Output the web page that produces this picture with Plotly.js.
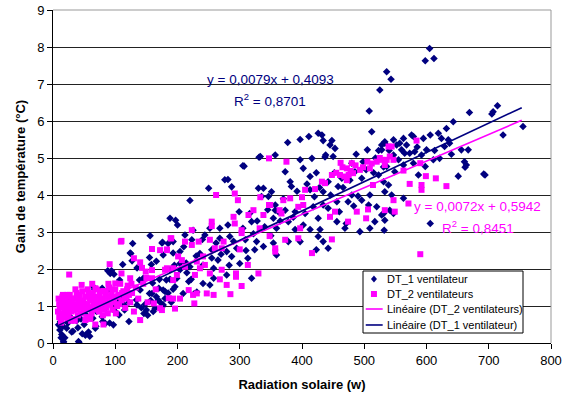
<!DOCTYPE html>
<html>
<head>
<meta charset="utf-8">
<script src="https://cdn.plot.ly/plotly-3.0.1.min.js"></script>
<style>html,body{margin:0;padding:0;background:#fff;}#chart{width:565px;height:395px;}</style>
</head>
<body>
<div id="chart"></div>
<script>
// DT_1 ventilateur (navy diamonds): radiation (w), gain (°C)
const dt1X = [9,11,12,13,14,14,16,17,17,19,22,24,30,32,40,41,42,47,50,51,52,53,57,59,20,28,35,45,60,15,25,38,
  64,65,67,68,69,75,79,79,80,84,88,91,91,92,94,94,97,98,104,106,107,112,114,115,122,124,125,127,128,122,100,85,70,110,
  134,135,135,139,140,146,150,155,155,156,158,159,164,166,169,170,171,175,175,176,177,177,177,180,180,182,185,188,188,188,193,193,193,196,197,199,200,
  142,148,152,157,161,166,172,185,190,145,160,
  204,204,204,209,212,214,218,220,220,222,223,225,227,231,236,241,241,244,250,252,252,255,258,258,265,268,268,276,279,279,281,281,284,287,287,295,299,300,
  305,307,309,313,319,319,324,327,330,331,333,335,338,338,340,346,351,354,354,357,357,357,359,359,362,373,373,377,378,378,381,383,389,389,397,397,397,
  402,402,411,413,413,413,416,418,423,423,426,426,426,429,432,434,434,434,434,437,438,442,442,442,445,448,450,453,456,456,458,464,469,471,474,480,480,485,487,490,493,496,496,
  503,505,507,508,509,509,512,517,520,523,523,525,528,528,528,531,531,531,532,533,533,533,533,536,536,539,541,543,544,547,547,547,549,555,557,560,563,563,563,565,568,573,576,579,579,581,587,592,595,598,598,
  600,605,606,606,611,612,619,621,624,629,632,635,637,643,651,656,661,662,664,667,669,692,694,705,707,714,723,755,
  255,262,270,283,290,305,310,316,322,328,345,350,365,370,386,392,405,408,420,428,446,452,460,466,477,483,498,515,518,540,552,585,613,640,195,210,230,240,215];
const dt1Y = [0.49,0.35,0.58,0.14,0.23,0.67,0.45,0.04,0.0,0.14,0.40,0.54,0.30,0.32,0.41,0.04,0.0,0.25,0.5,1.07,0.21,0.76,0.30,0.18,0.85,0.7,0.95,0.65,0.9,1.0,1.1,0.6,
  0.67,1.52,1.45,0.40,0.45,1.25,1.48,0.71,0.58,0.53,1.95,0.54,1.43,1.88,1.95,1.03,0.49,1.86,1.16,0.76,1.7,2.12,1.03,0.89,0.58,2.43,2.42,2.22,2.69,1.1,0.85,0.95,0.85,1.3,
  1.16,2.03,1.03,1.7,1.43,0.8,0.89,2.31,1.34,2.9,2.12,1.34,0.94,2.21,1.16,1.48,1.72,2.70,0.97,2.72,1.03,2.38,1.43,1.39,1.20,1.70,2.69,3.37,1.98,1.72,2.74,2.43,1.45,1.52,3.32,1.75,3.19,
  0.95,1.05,0.75,1.15,0.85,1.25,1.1,1.35,1.1,1.75,1.62,
  2.47,2.15,1.98,1.34,2.92,2.16,1.66,2.06,3.85,1.72,2.79,3.05,1.34,1.38,2.42,2.11,1.61,2.92,4.18,3.10,1.57,2.52,2.02,1.75,2.24,3.10,2.83,4.41,2.47,1.84,4.42,3.19,2.88,4.22,2.34,2.56,3.55,2.15,
  4.79,4.78,2.79,2.29,3.28,1.75,2.52,2.74,4.18,5.02,5.04,3.96,4.18,2.61,3.14,3.96,4.09,3.37,2.70,5.08,3.73,3.59,3.10,2.38,3.55,4.63,3.59,5.42,3.28,2.74,4.36,4.23,3.55,3.07,5.50,4.95,2.74,
  4.72,3.19,5.58,4.50,4.14,3.07,4.99,3.68,4.60,2.52,5.67,3.37,2.88,3.07,5.62,5.47,4.09,3.73,2.74,5.03,5.08,4.36,3.64,2.56,5.35,5.47,5.04,5.26,3.82,3.28,4.23,4.45,3.10,3.23,3.82,4.86,4.0,4.63,5.10,3.97,3.01,4.45,3.86,
  4.68,5.22,3.73,6.27,4.0,3.10,5.71,3.28,3.68,5.20,4.54,6.84,5.35,5.22,3.46,4.76,4.36,3.50,3.05,5.40,5.44,4.09,3.32,4.77,7.33,4.27,3.59,7.13,4.0,5.49,5.08,3.50,4.63,4.95,5.40,5.22,5.53,4.81,3.91,5.13,5.35,5.13,5.62,5.58,4.86,5.17,4.54,5.08,5.53,4.77,7.63,
  5.22,7.96,5.62,3.23,4.95,7.69,5.67,4.99,5.53,5.31,5.80,5.49,5.40,5.98,4.51,5.22,4.90,4.75,4.81,5.22,6.23,4.57,4.54,6.19,6.25,6.41,5.62,5.85,
  2.3,2.7,2.4,2.1,2.75,3.1,2.5,3.5,2.95,3.3,3.6,2.9,3.3,3.9,3.4,4.1,3.5,4.3,3.95,4.2,4.0,4.6,3.55,4.2,4.4,3.7,4.9,4.6,5.0,5.2,5.35,5.3,5.2,5.1,2.1,2.6,2.35,2.8,1.9];

// DT_2 ventilateurs (magenta squares)
const dt2X = [8,9,10,11,12,13,14,15,16,17,18,19,20,21,22,23,24,25,27,28,29,30,32,33,35,36,37,38,40,41,42,44,45,47,48,50,52,54,55,57,58,60,62,63,64,65,67,69,70,72,74,75,77,79,80,82,84,86,88,89,90,92,94,96,98,100,101,103,105,108,110,113,116,118,120,124,127,130,133,137,145,152,165,
  10,12,15,18,21,23,26,30,33,36,39,43,46,49,53,56,59,61,66,71,73,76,78,81,85,87,91,95,97,102,106,111,115,119,122,126,13,35,60,88,
  14,25,26,46,52,68,68,81,84,91,100,109,110,110,124,130,140,140,143,149,150,159,159,159,162,172,172,183,183,186,189,
  175,180,183,190,193,193,193,196,199,201,204,207,212,212,218,223,223,225,227,228,231,231,234,236,241,244,247,252,252,255,255,258,260,262,268,271,271,274,279,285,290,292,292,294,294,297,300,303,303,303,313,314,322,330,332,333,338,347,347,348,
  349,357,357,364,367,370,373,375,381,394,394,397,400,402,405,416,421,432,437,445,448,448,453,455,461,462,465,468,472,472,474,475,478,480,482,486,488,493,498,503,505,506,509,512,514,520,525,528,533,536,539,
  533,541,544,547,547,549,563,571,573,584,590,590,592,592,599,615,632];
const dt2Y = [0.85,1.2,0.7,1.0,0.95,0.6,1.15,0.8,1.3,1.05,0.7,0.9,1.25,1.1,0.9,0.65,1.1,0.75,1.3,1.0,0.6,0.85,1.2,0.65,1.05,1.45,0.9,1.35,0.75,1.2,1.15,1.0,0.8,1.4,1.1,0.9,1.25,0.7,1.05,1.3,0.95,1.15,0.8,1.6,1.35,1.0,1.2,0.9,1.45,1.1,0.85,1.3,1.0,1.2,0.75,1.4,1.1,0.95,1.25,1.6,1.5,1.05,1.3,0.9,1.2,1.45,0.8,1.0,1.3,1.6,1.15,1.4,0.95,1.25,1.55,1.1,1.35,0.85,1.5,1.2,1.6,1.1,1.45,
  1.05,0.75,1.25,1.0,0.8,1.3,0.95,1.1,0.9,1.2,1.0,1.3,0.95,1.15,1.0,1.45,1.2,0.95,1.1,1.25,0.95,1.15,1.4,0.9,1.35,1.1,1.25,1.45,1.1,1.25,1.05,1.35,1.2,1.45,1.3,1.6,0.55,0.6,0.65,0.8,
  1.12,1.25,1.85,1.57,0.62,1.48,0.50,0.50,1.39,2.13,1.61,2.74,2.76,1.88,1.75,2.29,2.18,0.62,2.03,1.93,1.76,2.54,1.75,1.97,1.07,2.51,0.94,2.51,2.02,1.21,2.83,
  0.89,1.98,2.53,2.83,2.02,1.70,1.20,0.93,1.84,2.34,1.20,2.24,2.74,2.06,1.43,3.05,2.65,1.30,1.07,1.84,2.20,1.34,2.74,2.02,2.34,2.11,1.34,2.79,1.88,3.28,3.16,1.30,2.56,4.0,1.72,2.56,1.98,2.74,1.57,1.32,3.41,4.04,3.23,1.88,1.79,3.86,2.53,3.05,2.97,1.54,2.11,3.46,3.59,1.88,3.10,3.94,3.46,4.99,3.73,2.89,
  3.73,2.56,2.47,3.59,3.50,3.86,2.79,4.90,3.91,3.68,2.83,3.10,3.94,3.73,4.14,2.43,4.16,4.36,4.32,3.41,4.54,2.80,3.55,4.6,4.54,4.87,4.75,4.5,4.72,4.40,3.28,4.54,4.65,4.86,4.59,4.8,3.55,4.68,4.75,3.37,4.9,3.61,4.72,4.85,4.27,4.90,5.0,4.95,3.59,4.95,5.31,
  4.81,5.04,5.31,4.95,3.86,3.55,4.66,3.77,4.30,5.47,4.86,2.40,4.27,4.14,4.51,4.45,4.24];

// Linear trend lines (end points)
const trend1X = [8, 753];
const trend1Y = [0.47, 6.36];
const trend2X = [8, 753];
const trend2Y = [0.65, 6.02];

const eq1 = ['y = 0,0079x + 0,4093', 'R<sup>2</sup> = 0,8701'];
const eq2 = ['y = 0,0072x + 0,5942', 'R<sup>2</sup> = 0,8451'];
const seriesNames = ['DT_1 ventilateur', 'DT_2 ventilateurs', 'Linéaire (DT_2 ventilateurs)', 'Linéaire (DT_1 ventilateur)'];

const NAVY = '#000080', MAG = '#FF00FF';
const FONT = 'Arial, "Liberation Sans", sans-serif';

const traces = [
  {x: dt1X, y: dt1Y, type: 'scatter', mode: 'markers', name: seriesNames[0],
   marker: {symbol: 'diamond', size: 5.8, color: NAVY}},
  {x: dt2X, y: dt2Y, type: 'scatter', mode: 'markers', name: seriesNames[1],
   marker: {symbol: 'square', size: 6, color: MAG}},
  {x: trend2X, y: trend2Y, type: 'scatter', mode: 'lines', name: seriesNames[2],
   line: {color: MAG, width: 1.6}},
  {x: trend1X, y: trend1Y, type: 'scatter', mode: 'lines', name: seriesNames[3],
   line: {color: NAVY, width: 1.6}}
];

// custom legend (Excel-style compact box), positions in paper units
const legBox = {x0: 0.6225, x1: 0.9438, y0: 0.030, y1: 0.2162};
const legRows = [0.1922, 0.1471, 0.1021, 0.0541];
const legSymX = 0.6445, legLineX0 = 0.628, legLineX1 = 0.662, legTextX = 0.6667;

const shapes = [
  {type: 'line', xref: 'paper', yref: 'paper', x0: 0, x1: 1, y0: 1, y1: 1, line: {color: '#999', width: 1}, layer: 'above'},
  {type: 'line', xref: 'paper', yref: 'paper', x0: 1, x1: 1, y0: 0, y1: 1, line: {color: '#999', width: 1}, layer: 'above'},
  {type: 'rect', xref: 'paper', yref: 'paper', x0: legBox.x0, x1: legBox.x1, y0: legBox.y0, y1: legBox.y1,
   fillcolor: '#fff', line: {color: '#000', width: 1}, layer: 'above'},
  {type: 'path', xref: 'paper', yref: 'paper', xsizemode: 'pixel', ysizemode: 'pixel',
   xanchor: legSymX, yanchor: legRows[0], path: 'M0,3.6 L3,0 L0,-3.6 L-3,0 Z',
   fillcolor: NAVY, line: {width: 0}, layer: 'above'},
  {type: 'rect', xref: 'paper', yref: 'paper', xsizemode: 'pixel', ysizemode: 'pixel',
   xanchor: legSymX, yanchor: legRows[1], x0: -3, x1: 3, y0: -3, y1: 3,
   fillcolor: MAG, line: {width: 0}, layer: 'above'},
  {type: 'line', xref: 'paper', yref: 'paper', x0: legLineX0, x1: legLineX1, y0: legRows[2], y1: legRows[2],
   line: {color: MAG, width: 1.6}, layer: 'above'},
  {type: 'line', xref: 'paper', yref: 'paper', x0: legLineX0, x1: legLineX1, y0: legRows[3], y1: legRows[3],
   line: {color: NAVY, width: 1.6}, layer: 'above'}
];

const annotations = [
  {x: 349, y: 7.11, xref: 'x', yref: 'y', text: eq1[0], showarrow: false, font: {family: FONT, size: 13.5, color: NAVY}},
  {x: 348, y: 6.57, xref: 'x', yref: 'y', text: eq1[1], showarrow: false, font: {family: FONT, size: 13.5, color: NAVY}},
  {x: 682, y: 3.70, xref: 'x', yref: 'y', text: eq2[0], showarrow: false, font: {family: FONT, size: 13.5, color: MAG}},
  {x: 682, y: 3.14, xref: 'x', yref: 'y', text: eq2[1], showarrow: false, font: {family: FONT, size: 13.5, color: MAG}}
];
seriesNames.forEach((n, i) => annotations.push({
  x: legTextX, y: legRows[i], xref: 'paper', yref: 'paper', xanchor: 'left', yanchor: 'middle',
  text: n, showarrow: false, font: {family: FONT, size: 11, color: '#000'}
}));

const layout = {
  width: 565, height: 395,
  margin: {l: 53, r: 14, t: 10, b: 52},
  paper_bgcolor: '#fff', plot_bgcolor: '#fff',
  font: {family: FONT, size: 13, color: '#000'},
  showlegend: false,
  xaxis: {range: [0, 800], dtick: 100, tick0: 0, showgrid: false, zeroline: false,
          showline: true, linecolor: '#000', linewidth: 1,
          ticks: 'outside', ticklen: 5, tickcolor: '#000',
          tickfont: {family: FONT, size: 13},
          title: {text: '<b>Radiation solaire (w)</b>', font: {family: FONT, size: 13}, standoff: 13}},
  yaxis: {range: [0, 9], dtick: 1, tick0: 0, showgrid: true, gridcolor: '#222', gridwidth: 1,
          zeroline: false, showline: true, linecolor: '#000', linewidth: 1,
          ticks: 'outside', ticklen: 5, tickcolor: '#000',
          tickfont: {family: FONT, size: 13},
          title: {text: '<b>Gain de température (°C)</b>', font: {family: FONT, size: 13}, standoff: 8}},
  shapes: shapes,
  annotations: annotations
};

Plotly.newPlot('chart', traces, layout, {displayModeBar: false, staticPlot: true});
</script>
</body>
</html>
